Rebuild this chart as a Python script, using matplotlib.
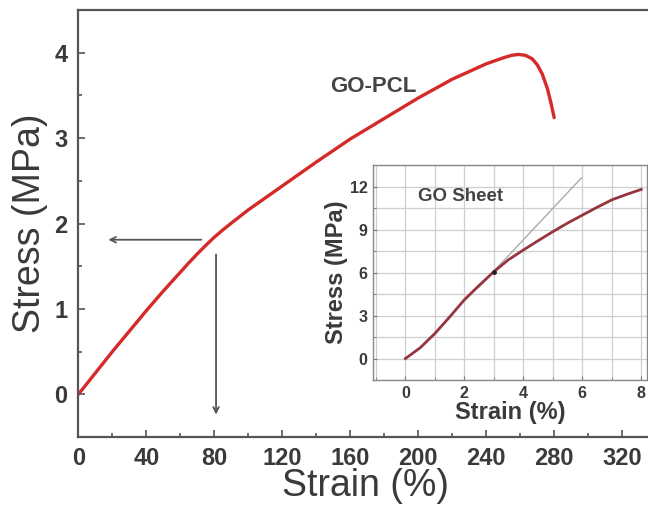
import matplotlib.pyplot as plt
from matplotlib.ticker import MultipleLocator

plt.rcParams['font.family'] = ['Liberation Sans', 'DejaVu Sans']

# GO-PCL tensile curve
pcl_strain = [0, 10, 20, 30, 40, 50, 60, 65, 70, 75, 80, 85, 90, 100, 110,
              120, 140, 160, 180, 200, 220, 240, 250, 255, 259, 263, 267,
              270, 273, 276, 278, 280]
pcl_stress = [0, 0.25, 0.50, 0.74, 0.98, 1.21, 1.43, 1.54, 1.645, 1.745,
              1.84, 1.925, 2.005, 2.16, 2.30, 2.44, 2.72, 2.99, 3.23, 3.47,
              3.69, 3.87, 3.94, 3.97, 3.98, 3.97, 3.93, 3.86, 3.75, 3.58,
              3.42, 3.24]

# GO sheet curve (inset)
go_strain = [0, 0.5, 1, 1.5, 2, 2.5, 3, 3.5, 4, 4.5, 5, 5.5, 6, 6.5, 7, 7.5, 8]
go_stress = [0, 0.75, 1.75, 2.9, 4.1, 5.1, 6.06, 6.9, 7.57, 8.22, 8.85, 9.45,
             10.0, 10.55, 11.07, 11.45, 11.8]

# linear fit line for the GO sheet
fit_strain = [2.5, 5.97]
fit_stress = [5.0, 12.6]

main_x_ticks = [0, 40, 80, 120, 160, 200, 240, 280, 320]
main_y_ticks = [0, 1, 2, 3, 4]
inset_x_ticks = [0, 2, 4, 6, 8]
inset_y_ticks = [0, 3, 6, 9, 12]

txt = '#3a3a3a'
spine_c = '#555555'

fig = plt.figure(figsize=(6.48, 5.15), dpi=100)
ax = fig.add_axes([0.121, 0.1515, 0.885, 0.829])

ax.plot(pcl_strain, pcl_stress, color='#d42a2a', lw=2.4, solid_capstyle='round',
        solid_joinstyle='round')
ax.set_xlim(0, 337.5)
ax.set_ylim(-0.5, 4.5)
ax.set_xticks(main_x_ticks)
ax.set_yticks(main_y_ticks)
ax.xaxis.set_minor_locator(MultipleLocator(20))
ax.yaxis.set_minor_locator(MultipleLocator(0.5))
ax.tick_params(which='both', direction='in', color=spine_c, width=1.2)
ax.tick_params(which='major', length=5, labelsize=17, labelcolor=txt)
ax.tick_params(axis='x', which='major', pad=7)
ax.tick_params(axis='y', which='major', pad=8)
ax.tick_params(which='minor', length=3)
for lab in ax.get_xticklabels() + ax.get_yticklabels():
    lab.set_fontweight('bold')
for s in ax.spines.values():
    s.set_color(spine_c)
    s.set_linewidth(1.6)
ax.set_xlabel('Strain (%)', fontsize=27, color=txt, labelpad=-1)
ax.set_ylabel('Stress (MPa)', fontsize=27, color=txt, labelpad=4)

ax.annotate('', xy=(16, 1.81), xytext=(74, 1.81),
            arrowprops=dict(arrowstyle='->', color='#555555', lw=1.3))
ax.annotate('', xy=(81, -0.27), xytext=(81, 1.67),
            arrowprops=dict(arrowstyle='->', color='#555555', lw=1.3))
ax.text(148, 3.6, 'GO-PCL', fontsize=16, fontweight='bold', color='#444444',
        va='center')

# inset
ins = fig.add_axes([0.5756, 0.262, 0.4230, 0.4175])
ins.set_facecolor('white')
ins.set_xlim(-1.1, 8.2)
ins.set_ylim(-1.5, 13.5)
ins.xaxis.set_minor_locator(MultipleLocator(1))
ins.yaxis.set_minor_locator(MultipleLocator(1.5))
ins.grid(which='both', color='#cfcfcf', lw=0.9)
ins.set_axisbelow(True)
ins.plot(fit_strain, fit_stress, color='#aaaaaa', lw=1.0)
ins.plot(go_strain, go_stress, color='#96343f', lw=2.0)
ins.plot([3], [6.06], 'o', color='#222222', ms=2.5)
ins.set_xticks(inset_x_ticks)
ins.set_yticks(inset_y_ticks)
ins.tick_params(which='both', direction='in', color='#777777')
ins.tick_params(which='major', length=3, labelsize=11.5, labelcolor=txt, pad=4)
ins.tick_params(which='minor', length=2)
for lab in ins.get_xticklabels() + ins.get_yticklabels():
    lab.set_fontweight('bold')
for s in ins.spines.values():
    s.set_color('#888888')
    s.set_linewidth(1.0)
ins.set_xlabel('Strain (%)', fontsize=17, fontweight='bold', color=txt, labelpad=0)
ins.set_ylabel('Stress (MPa)', fontsize=17, fontweight='bold', color=txt, labelpad=1)
ins.text(0.44, 11.3, 'GO Sheet', fontsize=13.5, fontweight='bold', color='#444444',
         va='center')

fig.savefig('out.png', dpi=100)
